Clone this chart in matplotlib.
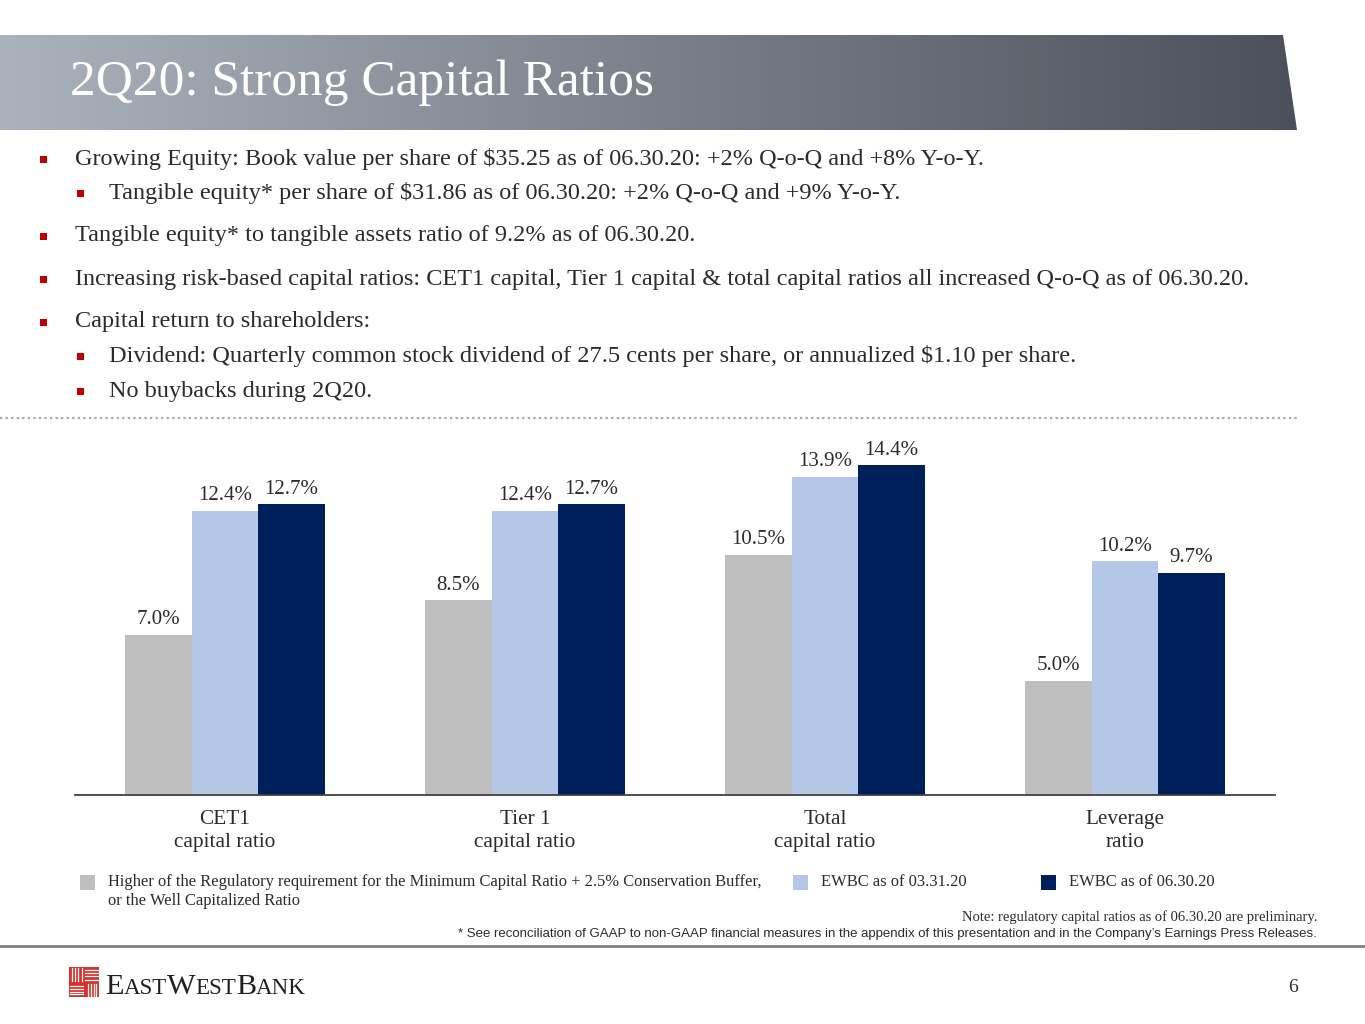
import numpy as np
import matplotlib
matplotlib.use("Agg")
import matplotlib.pyplot as plt
from matplotlib.patches import Polygon, Rectangle

W, H = 1365, 1024

# chart data
categories = ["CET1\ncapital ratio", "Tier 1\ncapital ratio", "Total\ncapital ratio", "Leverage\nratio"]
regulatory = [7.0, 8.5, 10.5, 5.0]
ewbc_q1 = [12.4, 12.4, 13.9, 10.2]
ewbc_q2 = [12.7, 12.7, 14.4, 9.7]
series_names = ["Higher of the Regulatory requirement for the Minimum Capital Ratio + 2.5% Conservation Buffer,\nor the Well Capitalized Ratio",
                "EWBC as of 03.31.20", "EWBC as of 06.30.20"]
series_colors = ["#bfbfbf", "#b4c7e7", "#00205b"]

title = "2Q20: Strong Capital Ratios"
bullets = [
    (0, "Growing Equity: Book value per share of $35.25 as of 06.30.20: +2% Q-o-Q and +8% Y-o-Y."),
    (1, "Tangible equity* per share of $31.86 as of 06.30.20: +2% Q-o-Q and +9% Y-o-Y."),
    (0, "Tangible equity* to tangible assets ratio of 9.2% as of 06.30.20."),
    (0, "Increasing risk-based capital ratios: CET1 capital, Tier 1 capital & total capital ratios all increased Q-o-Q as of 06.30.20."),
    (0, "Capital return to shareholders:"),
    (1, "Dividend: Quarterly common stock dividend of 27.5 cents per share, or annualized $1.10 per share."),
    (1, "No buybacks during 2Q20."),
]
bullet_y = [159, 193, 236, 279, 322, 356, 391]

SERIF = "Liberation Serif"
SANS = "Liberation Sans"
TXT = "#2b2b2b"

fig = plt.figure(figsize=(W / 100, H / 100), dpi=100)
fig.patch.set_facecolor("white")

# decoration layer in pixel coords
bg = fig.add_axes([0, 0, 1, 1])
bg.set_xlim(0, W)
bg.set_ylim(H, 0)
bg.axis("off")

# header banner with gradient
grad = np.linspace(0, 1, 256)
c0 = np.array([170, 179, 188]) / 255
c1 = np.array([76, 80, 90]) / 255
img = (c0[None, :] * (1 - grad[:, None]) + c1[None, :] * grad[:, None])[None, :, :]
banner = Polygon([(0, 35), (1283, 35), (1297, 130), (0, 130)], closed=True,
                 facecolor="none", edgecolor="none")
bg.add_patch(banner)
im = bg.imshow(img, extent=(0, 1297, 130, 35), aspect="auto", zorder=1)
im.set_clip_path(banner)
bg.text(70, 83, title, color="white", fontsize=37, family=SERIF, va="center", ha="left", zorder=2)

# bullets
for (lvl, s), y in zip(bullets, bullet_y):
    bx = 43 if lvl == 0 else 80
    tx = 75 if lvl == 0 else 109
    bg.add_patch(Rectangle((bx - 3.5, y - 3.5), 7, 7, facecolor="#c00000", edgecolor="none"))
    bg.text(tx, y, s, color=TXT, fontsize=17.5, family=SERIF, va="center", ha="left")

# dotted separator
bg.plot([0, 1300], [418, 418], color="#a6a6a6", lw=1.6, ls=(0, (1, 1.5)))

# legend
leg_x = [80, 793, 1041]
for name, col, lx in zip(series_names, series_colors, leg_x):
    bg.add_patch(Rectangle((lx, 875), 15, 15, facecolor=col, edgecolor="none"))
    bg.text(lx + 28, 874, name, color=TXT, fontsize=11.9, family=SERIF, va="top", ha="left",
            linespacing=1.25)

# notes
bg.text(1317, 917, "Note: regulatory capital ratios as of 06.30.20 are preliminary.", color=TXT,
        fontsize=10.5, family=SERIF, ha="right", va="center")
bg.text(1317, 934, "* See reconciliation of GAAP to non-GAAP financial measures in the appendix of this presentation and in the Company\u2019s Earnings Press Releases.",
        color=TXT, fontsize=9.5, family=SANS, ha="right", va="center")
bg.plot([0, W], [946, 946], color="#7f7f7f", lw=2)

# logo icon
bg.add_patch(Rectangle((69, 967), 30, 30, facecolor="#d5322c", edgecolor="none"))
for k in range(4):
    off = 3 + k * 3.2
    bg.plot([69 + off, 69 + off], [968, 981], color="white", lw=0.9)
    bg.plot([85, 98], [967 + off, 967 + off], color="white", lw=0.9)
    bg.plot([70, 83], [984 + off * 0.8, 984 + off * 0.8], color="white", lw=0.9)
    bg.plot([86 + off * 0.8, 86 + off * 0.8], [984, 996], color="white", lw=0.9)

# logo wordmark with small caps
fig.canvas.draw()
rend = fig.canvas.get_renderer()
xcur = 105
for piece in ["E", "AST", "W", "EST", "B", "ANK"]:
    big = piece in ("E", "W", "B")
    t = bg.text(xcur, 994, piece, color="#231f20", fontsize=21.8 if big else 16.6,
                family=SERIF, ha="left", va="baseline")
    ext = t.get_window_extent(renderer=rend)
    xcur += ext.width

bg.text(1293, 987, "6", color=TXT, fontsize=14, family=SERIF, ha="center", va="center")

# bar chart
ax_l, ax_r, ax_b, ax_t = 75, 1275, 795, 420
ax = fig.add_axes([ax_l / W, 1 - ax_b / H, (ax_r - ax_l) / W, (ax_b - ax_t) / H])
ax.set_facecolor("none")
px_per_pct = 22.9
ax.set_ylim(0, (ax_b - ax_t) / px_per_pct)
ax.set_xlim(-0.5, 3.5)
bw = 0.2222
x = np.arange(len(categories))
for j, (vals, col) in enumerate(zip([regulatory, ewbc_q1, ewbc_q2], series_colors)):
    xs = x + (j - 1) * bw
    ax.bar(xs, vals, width=bw, color=col, edgecolor="none", zorder=2)
    for xi, v in zip(xs, vals):
        ax.annotate(f"{v:.1f}%", (xi, v), xytext=(0, 4), textcoords="offset points",
                    ha="center", va="bottom", fontsize=15, family=SERIF, color=TXT)

for s in ["top", "left", "right"]:
    ax.spines[s].set_visible(False)
ax.spines["bottom"].set_color("#404040")
ax.spines["bottom"].set_linewidth(1.3)
ax.set_yticks([])
ax.set_xticks(x)
ax.set_xticklabels(categories, fontsize=15.3, family=SERIF, color=TXT, linespacing=1.28)
ax.tick_params(axis="x", length=0, pad=11)

fig.savefig("out.png", dpi=100, facecolor="white")
